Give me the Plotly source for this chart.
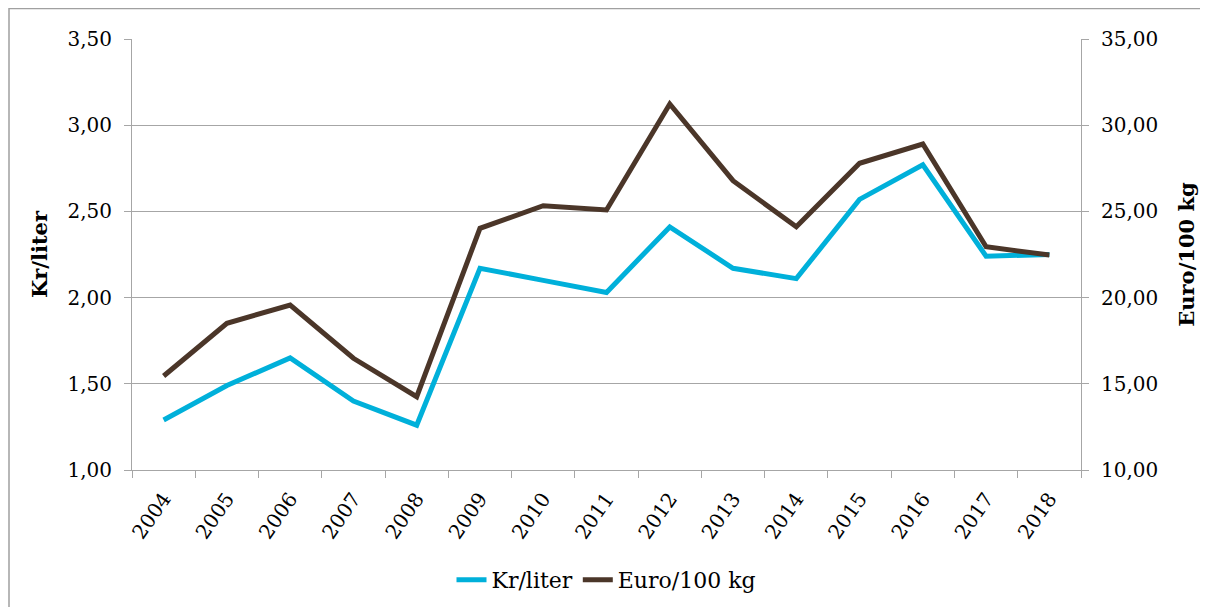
import plotly.graph_objects as go

years = ["2004", "2005", "2006", "2007", "2008", "2009", "2010", "2011",
         "2012", "2013", "2014", "2015", "2016", "2017", "2018"]
kr_liter = [1.29, 1.49, 1.65, 1.40, 1.26, 2.17, 2.10, 2.03,
            2.41, 2.17, 2.11, 2.57, 2.77, 2.24, 2.25]
euro_100kg = [15.45, 18.51, 19.57, 16.48, 14.25, 24.02, 25.33, 25.08,
              31.23, 26.78, 24.11, 27.79, 28.91, 22.95, 22.47]

FONT = "Georgia, 'DejaVu Serif', serif"
GRID = "#A6A6A6"
BLUE = "#00B0DA"
BROWN = "#4B3629"

fig = go.Figure()
fig.add_trace(go.Scatter(x=years, y=kr_liter, name="Kr/liter", mode="lines",
                         line=dict(color=BLUE, width=5)))
fig.add_trace(go.Scatter(x=years, y=euro_100kg, name="Euro/100 kg", mode="lines",
                         line=dict(color=BROWN, width=5), yaxis="y2"))

# page body has an 8px margin, so the figure is drawn offset by 8px
W, H = 1200, 599
L, R, T, B = 124, 127, 31, 137
pw, ph = W - L - R, H - T - B

fig.update_layout(
    width=W, height=H,
    margin=dict(l=L, r=R, t=T, b=B, autoexpand=False),
    paper_bgcolor="white", plot_bgcolor="white",
    separators=", ",
    font=dict(family=FONT, size=20, color="black"),
    xaxis=dict(type="category", tickangle=-55, tickson="boundaries",
               range=[-0.5, len(years) - 0.5], automargin=False,
               ticks="outside", ticklen=7, tickcolor=GRID, ticklabelstandoff=8,
               showline=True, linecolor=GRID, linewidth=1,
               showgrid=False, tickfont=dict(size=20)),
    yaxis=dict(range=[1, 3.5], tickvals=[1, 1.5, 2, 2.5, 3, 3.5], tickformat=".2f",
               showgrid=True, gridcolor=GRID, gridwidth=1, automargin=False,
               showline=True, linecolor=GRID, ticks="outside", ticklen=7, tickcolor=GRID,
               zeroline=False, ticklabelstandoff=8,
               title=dict(text="<b>Kr/liter</b>", font=dict(size=21), standoff=14)),
    yaxis2=dict(range=[10, 35], tickvals=[10, 15, 20, 25, 30, 35], tickformat=".2f",
                overlaying="y", side="right", showgrid=False, automargin=False,
                showline=True, linecolor=GRID, ticks="outside", ticklen=7, tickcolor=GRID,
                zeroline=False, ticklabelstandoff=8,
                title=dict(text="<b>Euro/100 kg</b>", font=dict(size=21), standoff=22)),
    legend=dict(orientation="h", x=0.5, xanchor="center", y=-0.255, yanchor="middle",
                font=dict(size=22), tracegroupgap=20),
    showlegend=True,
)

# outer chart frame
fig.add_shape(type="rect", xref="paper", yref="paper",
              x0=(1 - L) / pw, x1=(1210 - L) / pw,
              y0=(T + ph - 610) / ph, y1=(T + ph - 0.5) / ph,
              line=dict(color="#A0A0A0", width=1.5), fillcolor="rgba(0,0,0,0)", layer="below")

fig.write_html("out.html")
